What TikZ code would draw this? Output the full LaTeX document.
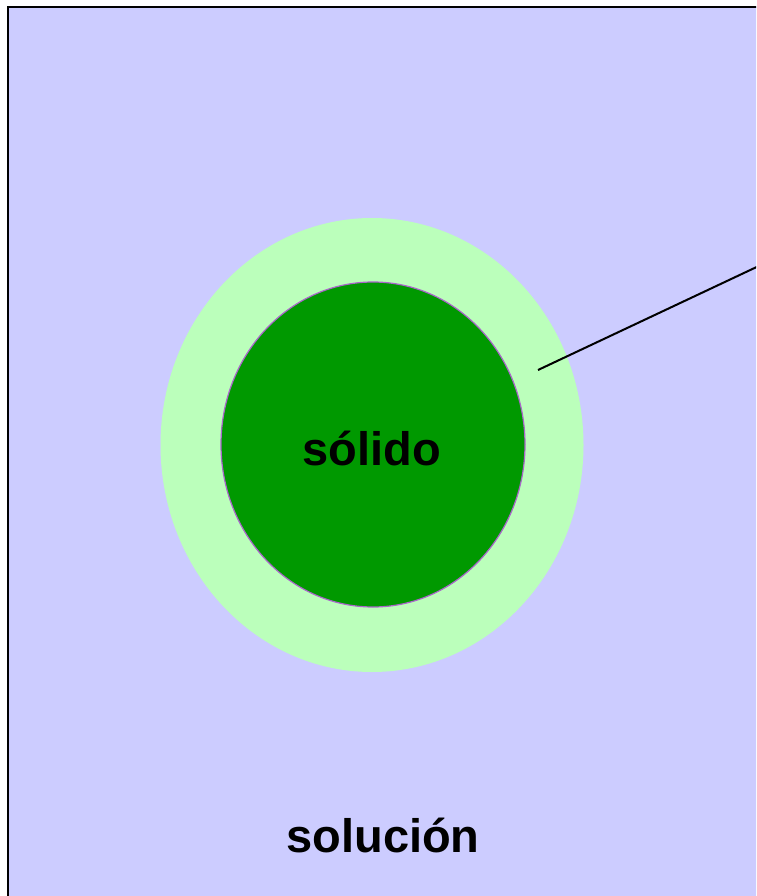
\documentclass[tikz,border=0pt]{standalone}
\usepackage{fontspec}
\setmainfont{Liberation Sans}
\usetikzlibrary{positioning, shapes.geometric}
\definecolor{solucionblue}{HTML}{CCCCFF}
\definecolor{capagreen}{HTML}{BBFFBB}
\definecolor{solidogreen}{HTML}{009900}
\definecolor{bordepurple}{HTML}{AA66CC}
\tikzset{
  capa/.style={
    ellipse,
    fill=capagreen,
    minimum width=423pt,
    minimum height=454pt
  },
  solido/.style={
    ellipse,
    draw=bordepurple,
    line width=1.2pt,
    fill=solidogreen,
    minimum width=304pt,
    minimum height=325pt
  },
  etiqueta/.style={
    font=\fontsize{47}{52}\selectfont\bfseries
  },
  linea/.style={
    line width=2pt
  }
}

\begin{document}
\begin{tikzpicture}[x=1pt, y=-1pt]
    \useasboundingbox (0,0) rectangle (756,896);
    \clip (0,0) rectangle (756,896);
    \draw[line width=2pt, fill=solucionblue] (8,7) rectangle (780,920);
    \node[capa] (capa) at (372,445) {};
    \node[solido] (solido) at (373,444.5) {};
    \node[etiqueta] (lsolido) at (372,448) {sólido};
    \node[etiqueta] (lsolucion) at (383,835) {solución};
    \coordinate (inicio) at (538,370);
    \coordinate (fin) at (780,256);
    \draw[linea] (inicio) -- (fin);
\end{tikzpicture}
\end{document}
